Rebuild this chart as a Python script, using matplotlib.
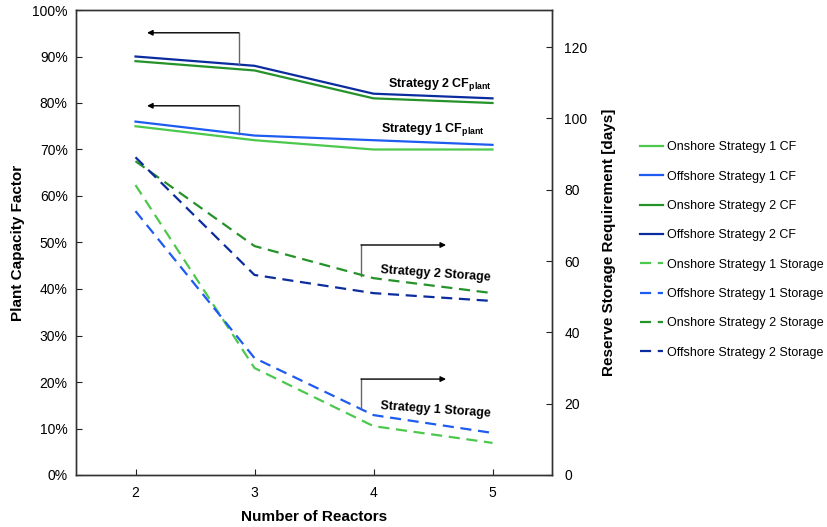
import matplotlib
matplotlib.use("Agg")
import matplotlib.pyplot as plt
from matplotlib.ticker import PercentFormatter, MultipleLocator

plt.rcParams['font.family'] = ['Liberation Sans', 'DejaVu Sans']
plt.rcParams['mathtext.fontset'] = 'custom'
plt.rcParams['mathtext.rm'] = 'Liberation Sans'
plt.rcParams['mathtext.bf'] = 'Liberation Sans:bold'

reactors = [2, 3, 4, 5]
onshore_s1_cf = [0.75, 0.72, 0.70, 0.70]
offshore_s1_cf = [0.76, 0.73, 0.72, 0.71]
onshore_s2_cf = [0.89, 0.87, 0.81, 0.80]
offshore_s2_cf = [0.90, 0.88, 0.82, 0.81]
onshore_s1_storage = [81.3, 30.0, 13.7, 9.0]
offshore_s1_storage = [74.0, 32.8, 16.8, 11.8]
onshore_s2_storage = [88.0, 64.2, 55.2, 51.0]
offshore_s2_storage = [89.1, 56.1, 51.0, 48.8]

c_on1 = '#4CC84C'
c_off1 = '#1E5BF0'
c_on2 = '#25922A'
c_off2 = '#0B2C9E'

fig = plt.figure(figsize=(8.27, 5.27), dpi=100)
ax = fig.add_axes([76/827, 52/527, 476/827, 465/527])
ax2 = ax.twinx()

lw = 1.6
dash = (0, (5, 3))
h1, = ax.plot(reactors, onshore_s1_cf, color=c_on1, lw=lw, label='Onshore Strategy 1 CF')
h2, = ax.plot(reactors, offshore_s1_cf, color=c_off1, lw=lw, label='Offshore Strategy 1 CF')
h3, = ax.plot(reactors, onshore_s2_cf, color=c_on2, lw=lw, label='Onshore Strategy 2 CF')
h4, = ax.plot(reactors, offshore_s2_cf, color=c_off2, lw=lw, label='Offshore Strategy 2 CF')
h5, = ax2.plot(reactors, onshore_s1_storage, color=c_on1, lw=lw, ls=dash, label='Onshore Strategy 1 Storage')
h6, = ax2.plot(reactors, offshore_s1_storage, color=c_off1, lw=lw, ls=dash, label='Offshore Strategy 1 Storage')
h7, = ax2.plot(reactors, onshore_s2_storage, color=c_on2, lw=lw, ls=dash, label='Onshore Strategy 2 Storage')
h8, = ax2.plot(reactors, offshore_s2_storage, color=c_off2, lw=lw, ls=dash, label='Offshore Strategy 2 Storage')

ax.set_xlim(1.5, 5.5)
ax.set_ylim(0, 1.0)
ax2.set_ylim(0, 130.4)
ax.set_xticks(reactors)
ax.yaxis.set_major_locator(MultipleLocator(0.1))
ax.yaxis.set_major_formatter(PercentFormatter(1.0, decimals=0))
ax2.yaxis.set_major_locator(MultipleLocator(20))

for a in (ax, ax2):
    a.tick_params(direction='in', length=4, width=0.8, labelsize=10, colors='#222222')
    for s in a.spines.values():
        s.set_color('#333333')
        s.set_linewidth(1.0)
ax.tick_params(axis='both', labelcolor='black')
ax2.tick_params(axis='y', labelcolor='black')
ax.tick_params(axis='y', pad=6)
ax.tick_params(axis='x', pad=8)
ax2.tick_params(axis='y', pad=9)

ax.set_xlabel('Number of Reactors', fontsize=11, fontweight='bold', labelpad=7)
ax.set_ylabel('Plant Capacity Factor', fontsize=11, fontweight='bold', labelpad=5)
ax2.set_ylabel('Reserve Storage Requirement [days]', fontsize=11, fontweight='bold', labelpad=10)

arrow_col = '#666666'
ap = dict(arrowstyle='-|>', color='black', lw=1.0, mutation_scale=8, shrinkA=0, shrinkB=0)
# CF arrows (left axis)
for (x0, y0, y1, x1) in [(2.87, 0.882, 0.951, 2.097), (2.87, 0.733, 0.794, 2.097)]:
    ax.plot([x0, x0], [y0, y1], color=arrow_col, lw=1.0)
    ax.annotate('', xy=(x1, y1), xytext=(x0, y1), arrowprops=ap)
# Storage arrows (right axis)
for (x0, y0, y1, x1) in [(3.895, 55.8, 64.5, 4.61), (3.895, 18.5, 26.9, 4.61)]:
    ax2.plot([x0, x0], [y0, y1], color=arrow_col, lw=1.0)
    ax2.annotate('', xy=(x1, y1), xytext=(x0, y1), arrowprops=ap)

ax.text(4.12, 0.839, r'Strategy 2 CF$_{\mathbf{plant}}$', fontsize=9, fontweight='bold', ha='left', va='center')
ax.text(4.06, 0.742, r'Strategy 1 CF$_{\mathbf{plant}}$', fontsize=9, fontweight='bold', ha='left', va='center')
ax2.text(4.52, 56.3, 'Strategy 2 Storage', fontsize=9, fontweight='bold', ha='center', va='center', rotation=-4)
ax2.text(4.52, 18.2, 'Strategy 1 Storage', fontsize=9, fontweight='bold', ha='center', va='center', rotation=-4)

handles = [h1, h2, h3, h4, h5, h6, h7, h8]
fig.legend(handles=handles, labels=[h.get_label() for h in handles],
           loc='center left', bbox_to_anchor=(637/827, (527-250)/527),
           frameon=False, fontsize=9, labelspacing=1.39, handlelength=1.9,
           handletextpad=0.3, borderpad=0.2, borderaxespad=0.0)

fig.savefig('out.png', dpi=100)
